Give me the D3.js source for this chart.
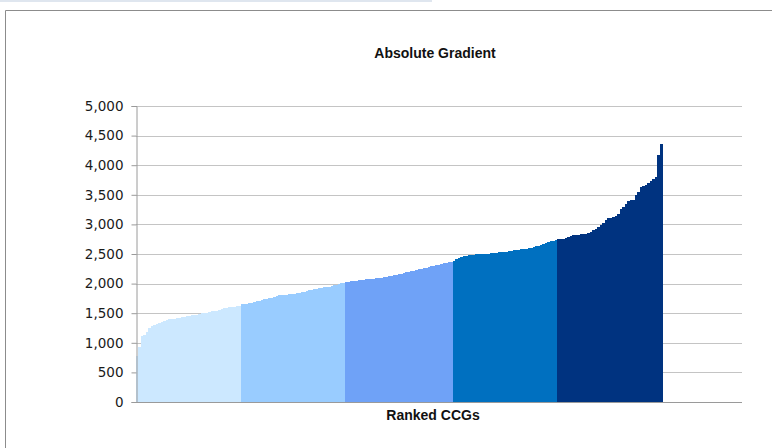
<!DOCTYPE html>
<html>
<head>
<meta charset="utf-8">
<script src="https://cdn.jsdelivr.net/npm/d3@7"></script>
<style>
  html, body { margin: 0; padding: 0; background: #ffffff; }
  svg { display: block; }
</style>
</head>
<body>
<svg id="chart" width="772" height="448"></svg>
<script>
// Absolute gradient per CCG, ranked ascending and split into quintiles
const quintile1 = [780, 930, 1120, 1140, 1180, 1250, 1280, 1300, 1320, 1340, 1355, 1370, 1385, 1395,
  1400, 1410, 1420, 1425, 1430, 1440, 1450, 1460, 1465, 1470, 1478, 1485, 1495, 1500,
  1510, 1520, 1530, 1535, 1545, 1555, 1570, 1585, 1595, 1600, 1600, 1605, 1615, 1620];
const quintile2 = [1650, 1655, 1660, 1665, 1670, 1685, 1700, 1710, 1720, 1735, 1745, 1750, 1760, 1775,
  1790, 1800, 1805, 1810, 1815, 1820, 1825, 1830, 1835, 1845, 1855, 1865, 1875, 1885,
  1895, 1905, 1910, 1920, 1930, 1935, 1940, 1950, 1960, 1970, 1980, 1995, 2005, 2015];
const quintile3 = [2030, 2035, 2040, 2045, 2050, 2055, 2060, 2065, 2070, 2075, 2080, 2085, 2090, 2095,
  2100, 2108, 2115, 2125, 2135, 2145, 2150, 2160, 2170, 2180, 2190, 2200, 2210, 2220,
  2230, 2240, 2250, 2260, 2270, 2280, 2290, 2300, 2310, 2320, 2330, 2340, 2350, 2358, 2365];
const quintile4 = [2390, 2410, 2430, 2450, 2460, 2470, 2480, 2488, 2490, 2495, 2498, 2500, 2502, 2505,
  2508, 2512, 2518, 2522, 2528, 2532, 2538, 2542, 2548, 2553, 2560, 2565, 2572, 2578,
  2585, 2592, 2600, 2608, 2618, 2628, 2638, 2648, 2665, 2690, 2710, 2718, 2725, 2732];
const quintile5 = [2750, 2755, 2760, 2765, 2790, 2810, 2815, 2820, 2825, 2830, 2835, 2845, 2860, 2880,
  2900, 2930, 2960, 2990, 3030, 3070, 3100, 3110, 3120, 3140, 3180, 3260, 3300, 3340,
  3390, 3410, 3420, 3500, 3540, 3630, 3650, 3660, 3700, 3730, 3770, 3800, 4170, 4350];

const quintiles = [quintile1, quintile2, quintile3, quintile4, quintile5];
const quintileColors = ["#cce8ff", "#99ccff", "#6fa2f7", "#0070c0", "#003380"];
const yTicks = [0, 500, 1000, 1500, 2000, 2500, 3000, 3500, 4000, 4500, 5000];
const categorySlots = 243;   // category axis length (ranked rows incl. trailing blanks)
const chartTitle = "Absolute Gradient";
const xTitle = "Ranked CCGs";

// Flatten into ranked rows, remembering quintile membership
const rows = [];
quintiles.forEach((vals, q) => vals.forEach(v => rows.push({ rank: rows.length, value: v, q })));

const svg = d3.select("#chart");
const plot = { left: 136, right: 742, top: 106, bottom: 402 };

const x = d3.scaleBand()
  .domain(d3.range(categorySlots))
  .range([plot.left, plot.right])
  .paddingInner(0).paddingOuter(0);
const y = d3.scaleLinear().domain([0, 5000]).range([plot.bottom, plot.top]);

// Outer chart frame
svg.append("rect").attr("x", 0).attr("y", 0).attr("width", 432).attr("height", 2)
  .attr("fill", "#dfe6ef");
svg.append("path")
  .attr("d", `M5.5,448 V10.5 H772`)
  .attr("fill", "none").attr("stroke", "#8c8c8c").attr("stroke-width", 1);

// Gridlines
svg.append("g")
  .selectAll("line").data(yTicks.filter(t => t > 0)).join("line")
  .attr("x1", plot.left).attr("x2", plot.right)
  .attr("y1", d => Math.round(y(d)) + 0.5).attr("y2", d => Math.round(y(d)) + 0.5)
  .attr("stroke", "#c4c4c4").attr("stroke-width", 1.2);

// Bars
svg.append("g").attr("shape-rendering", "crispEdges")
  .selectAll("rect").data(rows).join("rect")
  .attr("x", d => x(d.rank))
  .attr("width", x.bandwidth() + 0.4)
  .attr("y", d => y(d.value))
  .attr("height", d => y(0) - y(d.value))
  .attr("fill", d => quintileColors[d.q]);

// Value axis
const yAxis = d3.axisLeft(y).tickValues(yTicks).tickSize(5).tickPadding(8)
  .tickFormat(d3.format(","));
const ya = svg.append("g").attr("transform", `translate(${plot.left + 0.5},0)`).call(yAxis);
ya.select(".domain").attr("stroke", "#9a9a9a");
ya.selectAll(".tick line").attr("stroke", "#9a9a9a");
ya.selectAll(".tick text")
  .attr("fill", "#1a1a1a").attr("font-family", "'DejaVu Sans', Verdana, sans-serif")
  .attr("font-size", 13.5);

// Category axis baseline
svg.append("line")
  .attr("x1", plot.left).attr("x2", plot.right)
  .attr("y1", plot.bottom + 0.5).attr("y2", plot.bottom + 0.5)
  .attr("stroke", "#9a9a9a");

// Titles
svg.append("text").attr("x", 435).attr("y", 58).attr("text-anchor", "middle")
  .attr("font-family", "'Liberation Sans', Arial, sans-serif").attr("font-weight", "bold")
  .attr("font-size", 14).attr("fill", "#111").text(chartTitle);
svg.append("text").attr("x", 433).attr("y", 420).attr("text-anchor", "middle")
  .attr("font-family", "'Liberation Sans', Arial, sans-serif").attr("font-weight", "bold")
  .attr("font-size", 14).attr("fill", "#111").text(xTitle);
</script>
</body>
</html>
